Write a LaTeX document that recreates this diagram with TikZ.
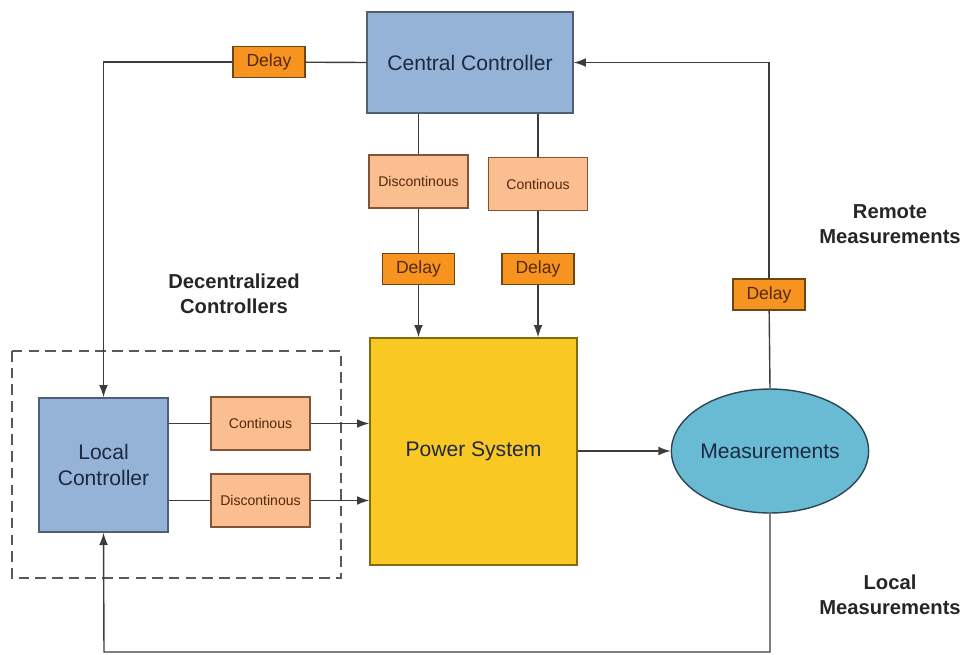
\documentclass[tikz,border=0pt]{standalone}
\usepackage{fontspec}
\setmainfont{Liberation Sans}
\usepackage{xcolor}
\usetikzlibrary{shapes.geometric, arrows.meta, positioning}

\definecolor{ctrlblue}{RGB}{149,179,215}
\definecolor{ctrledge}{RGB}{80,95,115}
\definecolor{delayorange}{RGB}{247,148,32}
\definecolor{delayedge}{RGB}{110,70,20}
\definecolor{modeorange}{RGB}{250,190,145}
\definecolor{modeedge}{RGB}{130,85,55}
\definecolor{psyellow}{RGB}{250,200,35}
\definecolor{psedge}{RGB}{130,105,20}
\definecolor{measblue}{RGB}{105,187,212}
\definecolor{measedge}{RGB}{45,70,85}
\definecolor{wire}{RGB}{60,60,60}
\definecolor{navytext}{RGB}{30,40,65}
\definecolor{browntext}{RGB}{85,40,10}

\begin{document}
\begin{tikzpicture}[x=0.02cm, y=-0.02cm,
            ctrl/.style={rectangle, draw=ctrledge, line width=0.8pt, fill=ctrlblue, align=center, text=navytext, font=\fontsize{12}{14.5}\selectfont, inner sep=0pt},
            delay/.style={rectangle, draw=delayedge, line width=0.8pt, fill=delayorange, minimum width=1.44cm, minimum height=0.62cm, text=browntext, font=\fontsize{10}{12}\selectfont, inner sep=0pt},
            mode/.style={rectangle, draw=modeedge, line width=0.8pt, fill=modeorange, minimum width=1.98cm, minimum height=1.06cm, text=browntext, font=\fontsize{8}{10}\selectfont, inner sep=0pt},
            label/.style={align=center, text=black!85, font=\bfseries\fontsize{11.5}{14}\selectfont},
            arrow/.style={-{Latex[length=7pt, width=5pt]}, draw=wire, line width=0.8pt},
            wireline/.style={draw=wire, line width=0.8pt}
        ]
            \useasboundingbox (0,0) rectangle (968,654);

% Controllers
            \node[ctrl, minimum width=4.12cm, minimum height=2.02cm] (cc) at (470,62.5) {Central Controller};
            \node[ctrl, minimum width=2.58cm, minimum height=2.68cm] (lc) at (103.5,465) {Local\\Controller};

% Power system and measurements
            \node[rectangle, draw=psedge, line width=0.8pt, fill=psyellow, minimum width=4.14cm, minimum height=4.54cm, text=navytext, font=\fontsize{12}{14.5}\selectfont, inner sep=0pt] (ps) at (473.5,451.5) {Power System};
            \node[ellipse, draw=measedge, line width=0.8pt, fill=measblue, minimum width=3.76cm, minimum height=2.48cm, text=navytext, font=\fontsize{12}{14.5}\selectfont, inner sep=0pt] (meas) at (770,451) {Measurements};

% Central controller signals
            \node[mode] (disc1) at (418.5,181.5) {Discontinous};
            \node[mode] (cont1) at (538,184) {Continous};
            \node[delay] (dly1) at (269,62) {Delay};
            \node[delay] (dly2) at (418.5,269) {Delay};
            \node[delay] (dly3) at (538,269) {Delay};
            \node[delay] (dly4) at (769,294.5) {Delay};

% Local controller signals
            \node[mode] (cont2) at (260.5,423.5) {Continous};
            \node[mode] (disc2) at (260.5,500.5) {Discontinous};

% Group box
            \draw[dashed, dash pattern=on 6pt off 3.5pt, draw=black!65, line width=0.8pt] (12,351) rectangle (341,578);

% Labels
            \node[label] (declabel) at (234,293.5) {Decentralized\\Controllers};
            \node[label] (remlabel) at (890,224) {Remote\\Measurements};
            \node[label] (loclabel) at (890,595) {Local\\Measurements};

% Central to local
            \draw[wireline] (cc.west) -- (dly1);
            \draw[arrow] (dly1) -| (lc.north);

% Central to power system
            \draw[wireline] (cc.south -| disc1) -- (disc1);
            \draw[wireline] (disc1) -- (dly2);
            \draw[arrow] (dly2) -- (dly2 |- ps.north);
            \draw[wireline] (cc.south -| cont1) -- (cont1);
            \draw[wireline] (cont1) -- (dly3);
            \draw[arrow] (dly3) -- (dly3 |- ps.north);

% Local to power system
            \draw[wireline] (lc.east |- cont2) -- (cont2);
            \draw[arrow] (cont2) -- (ps.west |- cont2);
            \draw[wireline] (lc.east |- disc2) -- (disc2);
            \draw[arrow] (disc2) -- (ps.west |- disc2);

% Power system to measurements
            \draw[arrow] (ps.east |- meas.west) -- (meas.west);

% Remote measurements
            \draw[wireline] (meas.north) -- (dly4);
            \draw[arrow] (dly4) |- (cc.east);

% Local measurements
            \coordinate (bl) at (104,652);
            \draw[arrow] (meas.south) |- (bl) -- (lc.south);

        \end{tikzpicture}
\end{document}
